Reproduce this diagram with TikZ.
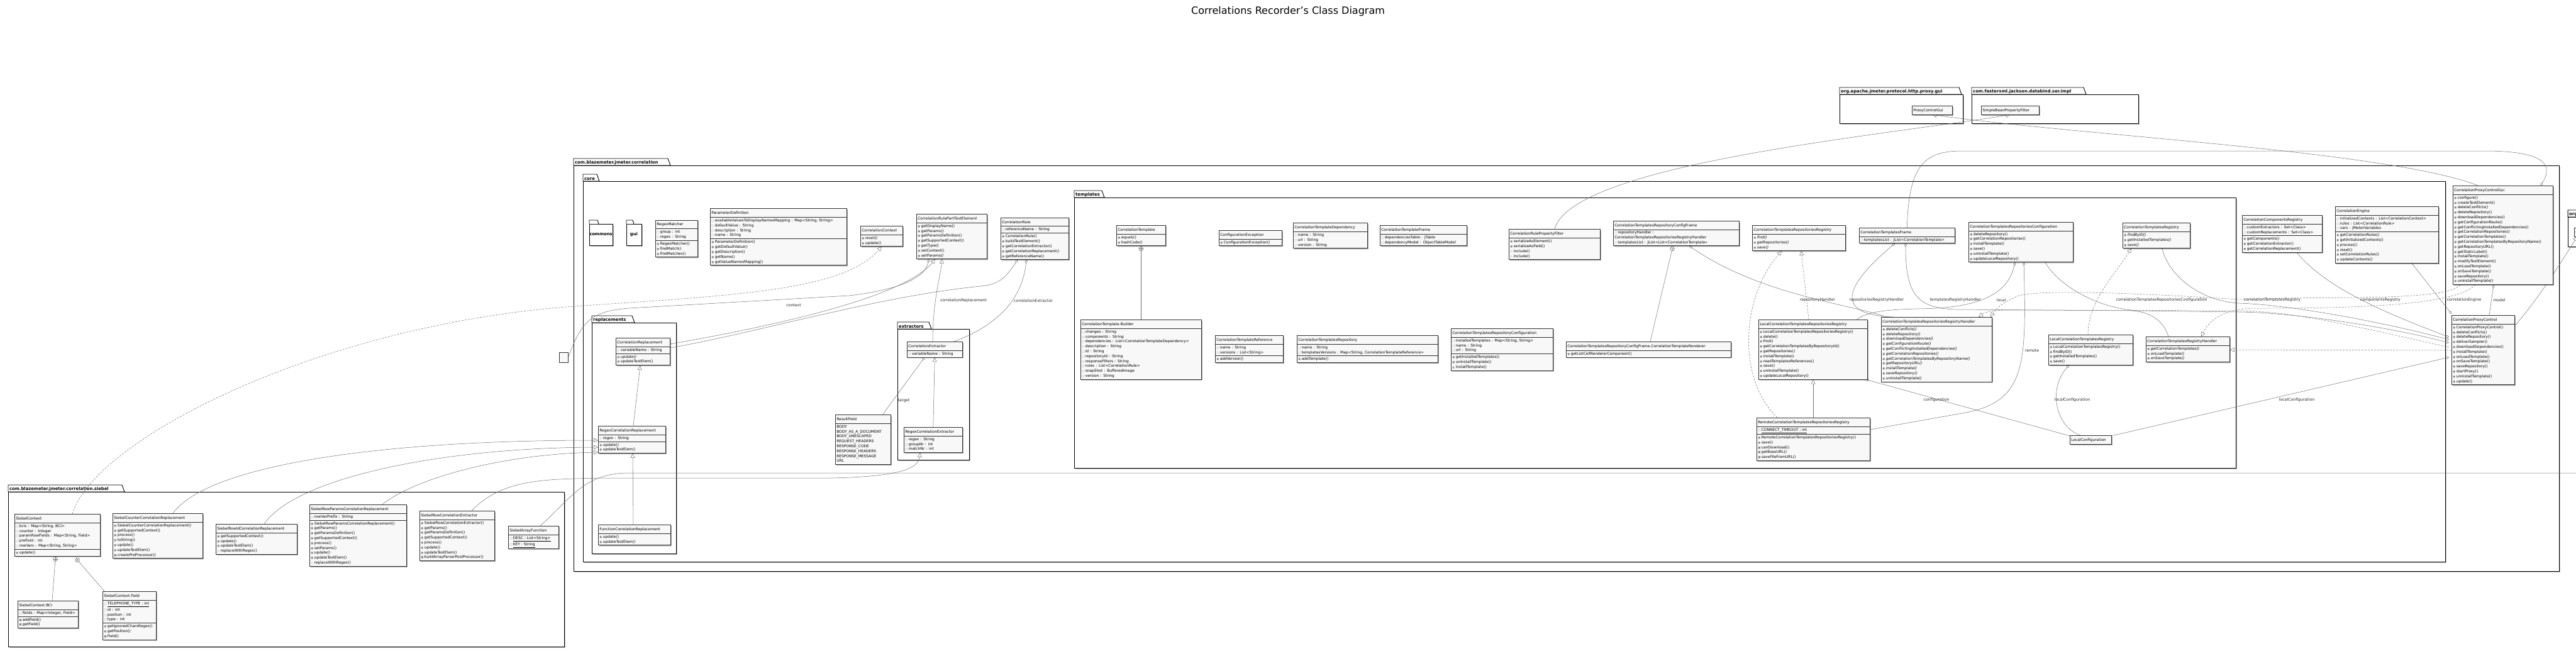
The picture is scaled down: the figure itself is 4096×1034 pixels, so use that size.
\documentclass[tikz,border=0pt]{standalone}
\usepackage{fontspec}
\setmainfont{DejaVu Sans}
\usetikzlibrary{shapes.multipart,shadows,arrows.meta,calc}
\definecolor{boxfill}{HTML}{F8F8F8}
\definecolor{lin}{HTML}{707070}
\definecolor{icg}{HTML}{8C8C8C}
\pgfdeclarelayer{pkgs}
\pgfdeclarelayer{conns}
\pgfsetlayers{pkgs,conns,main}
\newcommand\cf{\fontsize{5.9}{7.8}\selectfont}
\newcommand\stt{\rule[-2.1pt]{0pt}{7.8pt}}
\newcommand\ic[1]{\makebox[5.5pt][l]{\textcolor{icg}{\fontsize{4.6}{4.6}\selectfont#1}}}
\newcommand\Fv[1]{\ic{□}#1\stt}
\newcommand\Fp[1]{\ic{◇}#1\stt}
\newcommand\Fo[1]{\ic{○}#1\stt}
\newcommand\Mo[1]{\ic{●}#1\stt}
\newcommand\Mv[1]{\ic{■}#1\stt}
\newcommand\Mp[1]{\ic{◇}#1\stt}
\newcommand\Mk[1]{\ic{▲}#1\stt}
\newcommand\Ev[1]{#1\stt}
\newcommand\Tt[1]{\centering\rule[-3pt]{0pt}{10.5pt}#1}
\newcommand\Ti[1]{\centering\rule[-3pt]{0pt}{10.5pt}\textit{#1}}
\newcommand\nestmark[2]{\draw[lin,fill=white] (#1) circle (3.5pt);
  \draw[lin] ($(#1)+(#2:3.5pt)$) -- ($(#1)+(#2+180:3.5pt)$) ($(#1)+(#2+90:3.5pt)$) -- ($(#1)+(#2+270:3.5pt)$);}
\tikzset{
  cls/.style={rectangle split, rectangle split parts=#1, draw=black!80, line width=.55pt,
    fill=boxfill, font=\cf, align=left, inner xsep=2pt, inner ysep=1.3pt,
    drop shadow={shadow xshift=1.6pt, shadow yshift=-1.6pt, fill=black, opacity=.35}},
  cls/.default=3,
  pkgl/.style={draw=black, line width=.9pt},
  pkglab/.style={font=\fontsize{6.8}{8}\selectfont\bfseries, inner sep=1pt},
  lin/.style={draw=lin, line width=.5pt},
  gen/.style={lin, -{Triangle[length=7pt,width=7pt,fill=white]}},
  real/.style={gen, dash pattern=on 3pt off 2pt},
  agg/.style={lin, {Diamond[length=6pt,width=4pt,fill=white]}-},
  role/.style={font=\fontsize{6.2}{7}\selectfont, inner sep=.5pt, text=black!85},
}
\newcommand\pkgdraw[7]{%
  \fill[black!45,opacity=.6] (#2+2,#3+2) rectangle (#4+2,#5+2);
  \draw[pkgl,fill=white] (#2,#3) rectangle (#4,#5);
  \draw[pkgl,fill=white] (#2,#3) -- (#2,#3-11) -- (#2+#7,#3-11) -- (#2+#7+4,#3) -- cycle;
  \node[pkglab,anchor=south west] (#1) at (#2+1,#3) {#6};}
\begin{document}
\begin{tikzpicture}[x=1pt,y=-1pt]
\useasboundingbox (0,0) rectangle (4096,1034);
\begin{pgfonlayer}{pkgs}
\fill[white] (0,0) rectangle (4096,1034);
\pkgdraw{psiebel}{13}{782}{897}{1028}{com.blazemeter.jmeter.correlation.siebel}{181}
\pkgdraw{pcorr}{912}{263}{4069}{908}{com.blazemeter.jmeter.correlation}{150}
\pkgdraw{pcore}{927}{288}{3888}{893}{core}{22}
\pkgdraw{ptempl}{1708}{314}{3555}{744}{templates}{44}
\pkgdraw{prepl}{941}{513}{1075}{880}{replacements}{64}
\pkgdraw{pextr}{1427}{523}{1541}{731}{extractors}{50}
\pkgdraw{pproxy}{2925}{150}{3121}{196}{org.apache.jmeter.protocol.http.proxy.gui}{190}
\pkgdraw{pjack}{3135}{150}{3400}{196}{com.fasterxml.jackson.databind.ser.impl}{178}
\pkgdraw{porg}{4083}{345}{4300}{392}{org.apache.jmeter.protocol.http.proxy}{160}
% small packages
\fill[black!45,opacity=.6] (939,358) rectangle (976,392);
\draw[pkgl,fill=white] (937,356) rectangle (974,390);
\draw[pkgl,fill=white] (937,356) -- (937,350) -- (950,350) -- (952,356);
\node[pkglab] (pcommons) at (955.5,373) {commons};
\fill[black!45,opacity=.6] (998,358) rectangle (1022,392);
\draw[pkgl,fill=white] (996,356) rectangle (1020,390);
\draw[pkgl,fill=white] (996,356) -- (996,350) -- (1006,350) -- (1008,356);
\node[pkglab] (pgui) at (1008,373) {gui};
\end{pgfonlayer}

\node[pkglab] (title) at (2048,18) {\fontsize{16}{18}\selectfont\mdseries Correlations Recorder's Class Diagram};

% ---------- siebel ----------
\node[cls,text width=132pt,anchor=north west] (sc) at (23,817) {\Tt{SiebelContext}
 \nodepart{two}\Fv{bcis : Map<String, BCI>}\\\Fv{counter : Integer}\\\Fv{paramRowFields : Map<String, Field>}\\\Fv{prefixId : int}\\\Fv{rowVars : Map<String, String>}
 \nodepart{three}\Mo{update()}};
\node[cls=2,text width=139pt,anchor=north west] (scounter) at (179,816) {\Tt{SiebelCounterCorrelationReplacement}
 \nodepart{two}\Mo{SiebelCounterCorrelationReplacement()}\\\Mo{getSupportedContext()}\\\Mo{process()}\\\Mo{toString()}\\\Mo{update()}\\\Mo{updateTestElem()}\\\Mv{createPreProcessor()}};
\node[cls=2,text width=125pt,anchor=north west] (srowid) at (343,833) {\Tt{SiebelRowIdCorrelationReplacement}
 \nodepart{two}\Mo{getSupportedContext()}\\\Mo{update()}\\\Mo{updateTestElem()}\\\Mp{replaceWithRegex()}};
\node[cls,text width=92pt,anchor=north west] (scbci) at (28,955) {\Tt{SiebelContext.BCI}
 \nodepart{two}\Fv{fields : Map<Integer, Field>}
 \nodepart{three}\Mv{addField()}\\\Mv{getField()}};
\node[cls,text width=81pt,anchor=north west] (scfield) at (163,940) {\Tt{SiebelContext.Field}
 \nodepart{two}\Fv{\underline{TELEPHONE\_TYPE : int}}\\\Fv{id : int}\\\Fv{position : int}\\\Fv{type : int}
 \nodepart{three}\Mo{getIgnoredCharsRegex()}\\\Mo{getPosition()}\\\Mv{Field()}};
\node[cls,text width=150pt,anchor=north west] (srowparams) at (492,802) {\Tt{SiebelRowParamsCorrelationReplacement}
 \nodepart{two}\Fv{rowVarPrefix : String}
 \nodepart{three}\Mo{SiebelRowParamsCorrelationReplacement()}\\\Mo{getParams()}\\\Mo{getParamsDefinition()}\\\Mo{getSupportedContext()}\\\Mo{process()}\\\Mo{setParams()}\\\Mo{update()}\\\Mo{updateTestElem()}\\\Mp{replaceWithRegex()}};
\node[cls=2,text width=115pt,anchor=north west] (srowext) at (667,812) {\Tt{SiebelRowCorrelationExtractor}
 \nodepart{two}\Mo{SiebelRowCorrelationExtractor()}\\\Mo{getParams()}\\\Mo{getParamsDefinition()}\\\Mo{getSupportedContext()}\\\Mo{process()}\\\Mo{update()}\\\Mo{updateTestElem()}\\\Mv{buildArrayParserPostProcessor()}};
\node[cls=2,text width=76pt,anchor=north west] (sarray) at (808,836) {\Tt{SiebelArrayFunction}
 \nodepart{two}\Fv{\underline{DESC : List<String>}}\\\Fv{\underline{KEY : String}}};

% ---------- replacements / extractors ----------
\node[cls,text width=82pt,anchor=north west] (creplace) at (979,537) {\Ti{CorrelationReplacement}
 \nodepart{two}\Fp{variableName : String}
 \nodepart{three}\Mo{\textit{update()}}\\\Mo{updateTestElem()}};
\node[cls,text width=103pt,anchor=north west] (rxrepl) at (951,677) {\Tt{RegexCorrelationReplacement}
 \nodepart{two}\Fp{regex : String}
 \nodepart{three}\Mo{update()}\\\Mo{updateTestElem()}};
\node[cls=2,text width=111pt,anchor=north west] (fnrepl) at (951,834) {\Tt{FunctionCorrelationReplacement}
 \nodepart{two}\Mo{update()}\\\Mo{updateTestElem()}};
\node[cls=2,text width=84pt,anchor=north west] (cextract) at (1442,543) {\Ti{CorrelationExtractor}
 \nodepart{two}\Fo{variableName : String}};
\node[cls=2,text width=89pt,anchor=north west] (rxext) at (1437,679) {\Tt{RegexCorrelationExtractor}
 \nodepart{two}\Fp{regex : String}\\\Fv{groupNr : int}\\\Fv{matchNr : int}};
\node[cls=2,text width=84pt,anchor=north west] (resultf) at (1328,659) {\Tt{ResultField}
 \nodepart{two}\Ev{BODY}\\\Ev{BODY\_AS\_A\_DOCUMENT}\\\Ev{BODY\_UNESCAPED}\\\Ev{REQUEST\_HEADERS}\\\Ev{RESPONSE\_CODE}\\\Ev{RESPONSE\_HEADERS}\\\Ev{RESPONSE\_MESSAGE}\\\Ev{URL}};
\node[draw=black!80,fill=boxfill,minimum width=14pt,minimum height=16pt,anchor=north west] (stub) at (889,560) {};

% ---------- core top row ----------
\node[cls,text width=63pt,anchor=south west] (rxmatch) at (1042,409) {\Tt{RegexMatcher}
 \nodepart{two}\Fv{group : int}\\\Fv{regex : String}
 \nodepart{three}\Mo{RegexMatcher()}\\\Mo{findMatch()}\\\Mo{findMatches()}};
\node[cls,text width=213pt,anchor=south west] (paramdef) at (1129,422) {\Tt{ParameterDefinition}
 \nodepart{two}\Fv{availableValuesToDisplayNamesMapping : Map<String, String>}\\\Fv{defaultValue : String}\\\Fv{description : String}\\\Fv{name : String}
 \nodepart{three}\Mo{ParameterDefinition()}\\\Mo{getDefaultValue()}\\\Mo{getDescription()}\\\Mo{getName()}\\\Mo{getValueNamesMapping()}};
\node[cls=2,text width=63pt,anchor=south west] (cctx) at (1368,392) {\Ti{CorrelationContext}
 \nodepart{two}\Mo{\textit{reset()}}\\\Mo{update()}};
\node[cls=2,text width=108pt,anchor=south west] (crpart) at (1457,412) {\Ti{CorrelationRulePartTestElement}
 \nodepart{two}\Mo{getDisplayName()}\\\Mo{getParams()}\\\Mo{getParamsDefinition()}\\\Mo{getSupportedContext()}\\\Mo{\textit{getType()}}\\\Mo{setContext()}\\\Mo{\textit{setParams()}}};
\node[cls,text width=104pt,anchor=south west] (crule) at (1591,413) {\Tt{CorrelationRule}
 \nodepart{two}\Fv{referenceName : String}
 \nodepart{three}\Mo{CorrelationRule()}\\\Mo{buildTestElement()}\\\Mo{getCorrelationExtractor()}\\\Mo{getCorrelationReplacement()}\\\Mo{getReferenceName()}};

% ---------- templates ----------
\node[cls=2,text width=74pt,anchor=south west] (ctemplate) at (1775,391) {\Tt{CorrelationTemplate}
 \nodepart{two}\Mo{equals()}\\\Mo{hashCode()}};
\node[cls=2,text width=96pt,anchor=south west] (cfgexc) at (1938,391) {\Tt{ConfigurationException}
 \nodepart{two}\Mo{ConfigurationException()}};
\node[cls=2,text width=114pt,anchor=south west] (ctdep) at (2056,395) {\Tt{CorrelationTemplateDependency}
 \nodepart{two}\Fv{name : String}\\\Fv{url : String}\\\Fv{version : String}};
\node[cls=2,text width=134pt,anchor=south west] (ctframe) at (2194,391) {\Tt{CorrelationTemplateFrame}
 \nodepart{two}\Fv{dependenciesTable : JTable}\\\Fv{dependencyModel : ObjectTableModel}};
\node[cls=2,text width=141pt,anchor=south west] (propfilter) at (2399,413) {\Tt{CorrelationRulePropertyFilter}
 \nodepart{two}\Mo{serializeAsElement()}\\\Mo{serializeAsField()}\\\Mp{include()}\\\Mp{include()}};
\node[cls=2,text width=196pt,anchor=south west] (ctrcframe) at (2565,391) {\Tt{CorrelationTemplatesRepositoryConfigFrame}
 \nodepart{two}\Fv{repositoryHandler : CorrelationTemplatesRepositoriesRegistryHandler}\\\Fv{templatesList : JList<List<CorrelationTemplate>>}};
\node[cls=2,text width=144pt,anchor=south west] (ctrreg) at (2786,399) {\Ti{CorrelationTemplatesRepositoriesRegistry}
 \nodepart{two}\Mo{\textit{find()}}\\\Mo{\textit{getRepositories()}}\\\Mo{\textit{save()}}};
\node[cls=2,text width=148pt,anchor=south west] (ctframe2) at (2956,387) {\Tt{CorrelationTemplatesFrame}
 \nodepart{two}\Fv{templatesList : JList<CorrelationTemplate>}};
\node[cls=2,text width=162pt,anchor=south west] (ctrconf) at (3130,417) {\Tt{CorrelationTemplatesRepositoriesConfiguration}
 \nodepart{two}\Mo{deleteRepository()}\\\Mo{getCorrelationRepositories()}\\\Mo{installTemplate()}\\\Mo{save()}\\\Mo{uninstallTemplate()}\\\Mo{updateLocalRepository()}};
\node[cls=2,text width=103pt,anchor=south west] (ctreg) at (3375,395) {\Ti{CorrelationTemplatesRegistry}
 \nodepart{two}\Mo{\textit{findByID()}}\\\Mo{\textit{getInstalledTemplates()}}\\\Mo{\textit{save()}}};

\node[cls=2,text width=188pt,anchor=north west] (ctbuilder) at (1718,508) {\Tt{CorrelationTemplate.Builder}
 \nodepart{two}\Fv{changes : String}\\\Fv{components : String}\\\Fv{dependencies : List<CorrelationTemplateDependency>}\\\Fv{description : String}\\\Fv{id : String}\\\Fv{repositoryId : String}\\\Fv{responseFilters : String}\\\Fv{rules : List<CorrelationRule>}\\\Fv{snapShot : BufferedImage}\\\Fv{version : String}};
\node[cls,text width=104pt,anchor=north west] (ctref) at (1932,533) {\Tt{CorrelationTemplateReference}
 \nodepart{two}\Fv{name : String}\\\Fv{versions : List<String>}
 \nodepart{three}\Mo{addVersion()}};
\node[cls,text width=220pt,anchor=north west] (ctrepo) at (2062,533) {\Tt{CorrelationTemplatesRepository}
 \nodepart{two}\Fv{name : String}\\\Fv{templatesVersions : Map<String, CorrelationTemplateReference>}
 \nodepart{three}\Mo{addTemplate()}};
\node[cls,text width=158pt,anchor=north west] (ctrepoconf) at (2307,522) {\Tt{CorrelationTemplatesRepositoryConfiguration}
 \nodepart{two}\Fv{installedTemplates : Map<String, String>}\\\Fv{name : String}\\\Fv{url : String}
 \nodepart{three}\Mo{getInstalledTemplates()}\\\Mo{uninstallTemplate()}\\\Mk{installTemplate()}};
\node[cls=2,text width=258pt,anchor=north west] (ctrenderer) at (2490,543) {\Tt{CorrelationTemplatesRepositoryConfigFrame.CorrelationTemplateRenderer}
 \nodepart{two}\Mo{getListCellRendererComponent()}};
\node[cls=2,text width=169pt,anchor=north west] (lctrr) at (2796,508) {\Tt{LocalCorrelationTemplatesRepositoriesRegistry}
 \nodepart{two}\Mo{LocalCorrelationTemplatesRepositoriesRegistry()}\\\Mo{delete()}\\\Mo{find()}\\\Mo{getCorrelationTemplatesByRepositoryId()}\\\Mo{getRepositories()}\\\Mo{installTemplate()}\\\Mo{readTemplatesReferences()}\\\Mo{save()}\\\Mo{uninstallTemplate()}\\\Mo{updateLocalRepository()}};
\node[cls,text width=176pt,anchor=north west] (rctrr) at (2793,664) {\Tt{RemoteCorrelationTemplatesRepositoriesRegistry}
 \nodepart{two}\Fv{\underline{CONNECT\_TIMEOUT : int}}
 \nodepart{three}\Mo{RemoteCorrelationTemplatesRepositoriesRegistry()}\\\Mo{save()}\\\Mv{canDownload()}\\\Mv{getBaseURL()}\\\Mv{saveFileFromURL()}};
\node[cls=2,text width=172pt,anchor=north west] (ctrrh) at (2991,504) {\Ti{CorrelationTemplatesRepositoriesRegistryHandler}
 \nodepart{two}\Mo{\textit{deleteConflicts()}}\\\Mo{\textit{deleteRepository()}}\\\Mo{\textit{downloadDependencies()}}\\\Mo{\textit{getConfigurationRoute()}}\\\Mo{\textit{getConflictingInstalledDependencies()}}\\\Mo{\textit{getCorrelationRepositories()}}\\\Mo{\textit{getCorrelationTemplatesByRepositoryName()}}\\\Mo{\textit{getRepositoryURL()}}\\\Mo{\textit{installTemplate()}}\\\Mo{\textit{saveRepository()}}\\\Mo{\textit{uninstallTemplate()}}};
\node[cls=2,text width=130pt,anchor=north west] (lctr) at (3257,532) {\Tt{LocalCorrelationTemplatesRegistry}
 \nodepart{two}\Mo{LocalCorrelationTemplatesRegistry()}\\\Mo{findByID()}\\\Mo{getInstalledTemplates()}\\\Mo{save()}};
\node[cls=2,text width=129pt,anchor=north west] (ctrh) at (3412,535) {\Ti{CorrelationTemplatesRegistryHandler}
 \nodepart{two}\Mo{\textit{getCorrelationTemplates()}}\\\Mo{\textit{onLoadTemplate()}}\\\Mo{\textit{onSaveTemplate()}}};
\node[cls=1,text width=62pt,anchor=north west] (lconf) at (3291,692) {\Tt{LocalConfiguration}};

% ---------- core right ----------
\node[cls,text width=123pt,anchor=north west] (ccompreg) at (3565,342) {\Tt{CorrelationComponentsRegistry}
 \nodepart{two}\Fv{customExtractors : Set<Class>}\\\Fv{customReplacements : Set<Class>}
 \nodepart{three}\Mo{getComponents()}\\\Mo{getCorrelationExtractor()}\\\Mo{getCorrelationReplacement()}};
\node[cls,text width=160pt,anchor=north west] (cengine) at (3713,328) {\Tt{CorrelationEngine}
 \nodepart{two}\Fv{initializedContexts : List<CorrelationContext>}\\\Fv{rules : List<CorrelationRule>}\\\Fv{vars : JMeterVariables}
 \nodepart{three}\Mo{getCorrelationRules()}\\\Mo{getInitializedContexts()}\\\Mo{process()}\\\Mo{reset()}\\\Mo{setCorrelationRules()}\\\Mo{updateContexts()}};
\node[cls=2,text width=155pt,anchor=north west] (pcgui) at (3900,295) {\Tt{CorrelationProxyControlGui}
 \nodepart{two}\Mo{configure()}\\\Mo{createTestElement()}\\\Mo{deleteConflicts()}\\\Mo{deleteRepository()}\\\Mo{downloadDependencies()}\\\Mo{getConfigurationRoute()}\\\Mo{getConflictingInstalledDependencies()}\\\Mo{getCorrelationRepositories()}\\\Mo{getCorrelationTemplates()}\\\Mo{getCorrelationTemplatesByRepositoryName()}\\\Mo{getRepositoryURL()}\\\Mo{getStaticLabel()}\\\Mo{installTemplate()}\\\Mo{modifyTestElement()}\\\Mo{onLoadTemplate()}\\\Mo{onSaveTemplate()}\\\Mo{saveRepository()}\\\Mo{uninstallTemplate()}};
\node[cls=2,text width=96pt,anchor=north west] (pcontrol) at (3898,501) {\Tt{CorrelationProxyControl}
 \nodepart{two}\Mo{CorrelationProxyControl()}\\\Mo{deleteConflicts()}\\\Mo{deleteRepository()}\\\Mo{deliverSampler()}\\\Mo{downloadDependencies()}\\\Mo{installTemplate()}\\\Mo{onLoadTemplate()}\\\Mo{onSaveTemplate()}\\\Mo{saveRepository()}\\\Mo{startProxy()}\\\Mo{uninstallTemplate()}\\\Mo{update()}};

% external boxes
\node[cls=1,text width=60pt,anchor=north west] (proxyguibox) at (3040,168) {\Tt{ProxyControlGui}};
\node[cls=1,text width=88pt,anchor=north west] (filterbox) at (3150,168) {\Tt{SimpleBeanPropertyFilter}};
\node[cls=1,text width=60pt,anchor=north west] (proxybox) at (4093,362) {\Tt{ProxyControl}};

% ---------- connectors ----------
\begin{pgfonlayer}{conns}
\draw[real] ($(sc.north west)+(92,0)$) .. controls (150,700) and (500,520) .. (900,488) .. controls (1150,470) and (1340,465) .. (cctx.south);
\draw[gen] ($(scounter.north west)+(96,0)$) .. controls (330,740) and (600,700) .. ($(rxrepl.north west)+(0,23)$);
\draw[gen] ($(srowid.north west)+(77,0)$) .. controls (470,760) and (700,712) .. ($(rxrepl.north west)+(0,34)$);
\draw[gen] ($(srowparams.north west)+(116,0)$) .. controls (660,760) and (800,722) .. ($(rxrepl.north west)+(0,42)$);
\draw[gen] ($(srowext.north west)+(83,0)$) .. controls (800,760) and (870,762) .. (960,760) -- (1320,760) .. controls (1430,758) and (1460,745) .. ($(rxext.south west)+(26,0)$);
\draw[lin] ($(sarray.north west)+(51,0)$) .. controls (910,790) and (930,752) .. (1000,752) -- (4096,752);
\coordinate (nb) at ($(sc.south west)+(65,4.5)$);
\draw[lin] ($(scbci.north west)+(55,0)$) -- (nb);
\coordinate (nf) at ($(sc.south west)+(100,6)$);
\draw[lin] ($(scfield.north west)+(3,0)$) -- (nf);
\nestmark{nb}{0}
\nestmark{nf}{45}
% core
\draw[agg] ($(crpart.south west)+(20,0)$) .. controls (1470,445) and (1420,462) .. (1350,470) -- (1000,490) .. controls (940,495) and (925,510) .. (stub.east);
\draw[gen] ($(creplace.north east)+(0,10)$) .. controls (1250,515) and (1440,470) .. ($(crpart.south west)+(30,0)$);
\draw[agg] ($(crule.south west)+(27,0)$) .. controls (1600,440) and (1590,452) .. (1560,455) .. controls (1400,470) and (1200,530) .. ($(creplace.north east)+(0,16)$);
\draw[gen] ($(cextract.north west)+(41,0)$) .. controls (1483,480) and (1495,440) .. ($(crpart.south west)+(41,0)$);
\draw[agg] ($(crule.south west)+(41,0)$) .. controls (1625,480) and (1580,520) .. ($(cextract.north east)+(-14,0)$);
\draw[agg] ($(cextract.south west)+(28,0)$) -- ($(resultf.north east)+(-13,0)$);
\draw[gen] (rxext.north) -- (cextract.south);
\draw[gen] ($(rxrepl.north west)+(56,0)$) -- ($(creplace.south west)+(39,0)$);
\draw[gen] ($(fnrepl.north west)+(56,0)$) -- ($(rxrepl.south west)+(55,0)$);
% templates
\coordinate (nt) at ($(ctemplate.south)+(0,4.5)$);
\draw[lin] (ctbuilder.north) -- (nt);
\nestmark{nt}{0}
\coordinate (nr) at ($(ctrcframe.south west)+(94,4.5)$);
\draw[lin] ($(ctrenderer.north west)+(134,0)$) -- (nr);
\nestmark{nr}{14}
\draw[real] ($(lctrr.north west)+(80,0)$) -- ($(ctrreg.south west)+(78,0)$);
\draw[real] ($(rctrr.north west)+(33,0)$) .. controls (2760,600) and (2770,470) .. ($(ctrreg.south west)+(47,0)$);
\draw[gen] ($(rctrr.north west)+(90,0)$) -- ($(lctrr.south west)+(87,0)$);
\draw[agg] ($(ctrcframe.south west)+(121,0)$) .. controls (2800,470) and (2950,485) .. ($(ctrrh.north west)+(8,0)$);
\draw[agg] ($(ctframe2.south west)+(57,0)$) .. controls (2950,440) and (2900,500) .. ($(ctrrh.north west)+(20,0)$);
\draw[agg] ($(ctrconf.south west)+(74,0)$) .. controls (3190,480) and (3120,490) .. (3050,491) .. controls (2990,492) and (2965,498) .. ($(lctrr.north east)+(-17,0)$);
\draw[agg] ($(ctrconf.south west)+(88,0)$) .. controls (3222,580) and (3222,640) .. (3120,657) -- ($(rctrr.north east)+(0,19)$);
\draw[agg] ($(ctframe2.south west)+(74,0)$) .. controls (3030,470) and (3050,490) .. (3110,492) -- (3390,494) .. controls (3420,496) and (3440,510) .. ($(ctrh.north west)+(36,0)$);
\draw[agg] ($(pcontrol.north west)+(-4,44)$) .. controls (3800,520) and (3650,497) .. (3560,496) -- (3400,494) .. controls (3330,490) and (3270,450) .. ($(ctrconf.south west)+(122,0)$);
\draw[agg] ($(pcontrol.north west)+(-4,39)$) .. controls (3800,515) and (3650,485) .. (3560,482) .. controls (3490,478) and (3445,430) .. ($(ctreg.south west)+(63,0)$);
\draw[agg] ($(pcontrol.north west)+(-4,35)$) .. controls (3800,500) and (3700,460) .. ($(ccompreg.south west)+(87,0)$);
\draw[agg] ($(pcontrol.north west)+(0,-2)$) -- ($(cengine.south west)+(122,0)$);
\draw[agg] ($(pcgui.south west)+(65,0)$) -- ($(pcontrol.north west)+(60,0)$);
\draw[agg] ($(pcontrol.north west)+(-4,67)$) -- ($(lconf.north east)+(0,1)$);
\draw[agg] ($(lctrr.south east)+(-3,0)$) -- ($(lconf.north west)+(0,1)$);
\draw[agg] ($(lctr.south west)+(33,0)$) .. controls (3255,620) and (3270,680) .. ($(lconf.north west)+(17,0)$);
\draw[real] ($(pcgui.south west)+(12,0)$) .. controls (3890,480) and (3700,470) .. (3560,476) .. controls (3400,466) and (3250,460) .. (3210,470) .. controls (3190,478) and (3175,488) .. ($(ctrrh.north west)+(174,0)$);
\draw[real] ($(pcontrol.north west)+(-4,51)$) .. controls (3750,520) and (3650,495) .. (3560,494) -- (3200,493) .. controls (3170,493) and (3158,495) .. ($(ctrrh.north west)+(155,0)$);
\draw[real] ($(pcgui.south west)+(36,0)$) .. controls (3900,490) and (3700,490) .. (3580,490) .. controls (3540,492) and (3515,505) .. ($(ctrh.north west)+(88,0)$);
\draw[real] ($(pcontrol.north west)+(0,56)$) -- ($(ctrh.north east)+(0,21)$);
\draw[real] ($(lctr.north west)+(63,0)$) .. controls (3320,480) and (3360,440) .. ($(ctreg.south west)+(14,0)$);
% external
\draw[gen] ($(pcgui.north west)+(40,0)$) .. controls (3800,240) and (3300,215) .. (proxyguibox.south);
\draw[gen] (propfilter.north) .. controls (2500,260) and (3000,215) .. (filterbox.south);
\draw[gen] ($(pcontrol.north east)+(0,17)$) .. controls (4040,470) and (4070,420) .. ($(proxybox.south west)+(5,0)$);
\draw[agg] ($(pcgui.north east)+(-20,0)$) .. controls (4065,255) and (4030,240) .. (3950,240) -- (3120,240) .. controls (3060,240) and (3035,262) .. (ctframe2.north);
\end{pgfonlayer}

% ---------- role labels ----------
\node[role] (l1) at (1262,485) {context};
\node[role] (l2) at (1532,478) {correlationReplacement};
\node[role] (l3) at (1643,478) {correlationExtractor};
\node[role] (l4) at (1437,637) {target};
\node[role] (l5) at (2890,477) {repositoryHandler};
\node[role] (l6) at (2984,477) {repositoriesRegistryHandler};
\node[role] (l7) at (3109,477) {templatesRegistryHandler};
\node[role] (l8) at (3182,477) {local};
\node[role] (l9) at (3437,477) {correlationTemplatesRepositoriesConfiguration};
\node[role] (l10) at (3231,557) {remote};
\node[role] (l11) at (3079,636) {configuration};
\node[role] (l12) at (3295,636) {localConfiguration};
\node[role] (l13) at (3613,477) {correlationTemplatesRegistry};
\node[role] (l14) at (3785,477) {componentsRegistry};
\node[role] (l15) at (3918,477) {correlationEngine};
\node[role] (l16) at (3974,477) {model};
\node[role] (l17) at (3652,636) {localConfiguration};
\end{tikzpicture}
\end{document}
